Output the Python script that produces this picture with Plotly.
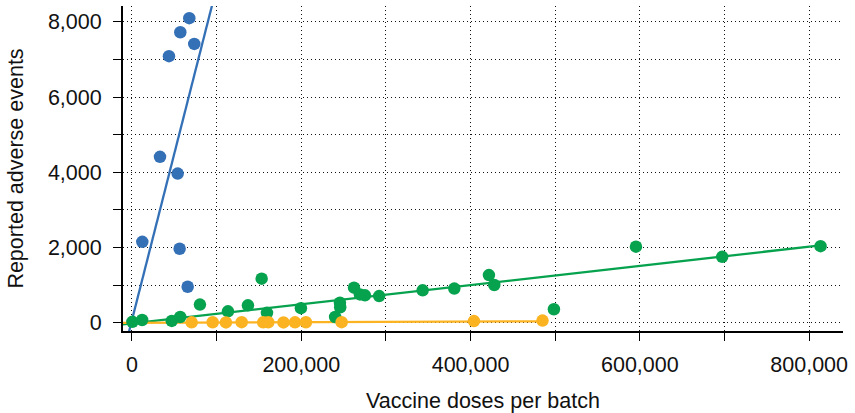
import plotly.graph_objects as go

# Batch-level data: doses shipped per batch vs. reported adverse events
blue_doses = [12200, 33100, 43700, 54000, 56300, 57100, 65800, 67700, 73600]
blue_events = [2150, 4410, 7090, 3965, 1965, 7725, 955, 8100, 7415]

green_doses = [500, 12000, 47000, 57000, 80300, 113400, 137000, 153200, 159500,
               199600, 240000, 245700, 246000, 262300, 269300, 275200, 292000,
               343400, 380800, 421700, 428000, 498500, 595400, 697300, 813500]
green_events = [20, 70, 45, 150, 480, 300, 460, 1170, 260,
                385, 150, 530, 410, 930, 750, 725, 705,
                860, 905, 1265, 1000, 355, 2020, 1750, 2035]

orange_doses = [70500, 95300, 111000, 129600, 155000, 161000, 179000, 192600,
                205500, 247700, 404000, 485000]
orange_events = [8, 10, 6, 12, 8, 10, 6, 8, 10, 12, 40, 55]

# Linear trend per group: (intercept, slope)
blue_fit = (70, 0.0885)
green_fit = (-20, 0.00255)
orange_fit = (-5, 0.00008)

BLUE = "#3470b6"
GREEN = "#07a24e"
ORANGE = "#fbb321"

X_RANGE = [-10600, 840000]
Y_RANGE = [-223, 8424]

FONT = "Liberation Sans, Arial, Helvetica, sans-serif"
FONT_SIZE = 21.5

fig = go.Figure()


def trend(fit, x0, x1):
    a, b = fit
    xs = [x0, x1]
    return xs, [a + b * x for x in xs]


series = [
    (blue_doses, blue_events, blue_fit, BLUE, X_RANGE[1]),
    (green_doses, green_events, green_fit, GREEN, max(green_doses)),
    (orange_doses, orange_events, orange_fit, ORANGE, max(orange_doses)),
]

for xs, ys, fit, color, x_end in series:
    lx, ly = trend(fit, X_RANGE[0], x_end)
    fig.add_trace(go.Scatter(x=lx, y=ly, mode="lines",
                             line=dict(color=color, width=2.3),
                             hoverinfo="skip", showlegend=False))

for xs, ys, fit, color, x_end in [series[1], series[0], series[2]]:
    fig.add_trace(go.Scatter(x=xs, y=ys, mode="markers",
                             marker=dict(color=color, size=12.5, line=dict(width=0)),
                             showlegend=False))

grid_dash = "1.3px,2.7px"
GRID_COLOR = "#111111"

axis_common = dict(
    showline=True, linecolor="black", linewidth=2, mirror=False,
    ticks="outside", ticklen=8, tickwidth=1.3, tickcolor="black",
    showgrid=True, gridcolor=GRID_COLOR, gridwidth=1, griddash=grid_dash,
    zeroline=False, automargin=False,
    tickfont=dict(family=FONT, size=FONT_SIZE, color="#111111"),
    title_font=dict(family=FONT, size=FONT_SIZE, color="#111111"),
)

fig.update_xaxes(
    range=X_RANGE, tick0=0, dtick=200000, tickformat=",d",
    minor=dict(dtick=100000, ticks="outside", ticklen=8, tickwidth=1.3,
               tickcolor="black", showgrid=True, gridcolor=GRID_COLOR,
               gridwidth=1, griddash=grid_dash),
    title=dict(text="Vaccine doses per batch", standoff=20),
    ticklabelstandoff=5,
    **axis_common,
)
fig.update_yaxes(
    range=Y_RANGE, tick0=0, dtick=2000, tickformat=",d",
    minor=dict(dtick=1000, ticks="outside", ticklen=8, tickwidth=1.3,
               tickcolor="black", showgrid=True, gridcolor=GRID_COLOR,
               gridwidth=1, griddash=grid_dash),
    title=dict(text="Reported adverse events", standoff=18),
    ticklabelstandoff=7,
    **axis_common,
)

fig.update_layout(
    width=855, height=413,
    margin=dict(l=123, r=12, t=6, b=82),
    paper_bgcolor="white", plot_bgcolor="white",
    font=dict(family=FONT, size=FONT_SIZE, color="#111111"),
    showlegend=False,
)

fig.write_html("out.html")
